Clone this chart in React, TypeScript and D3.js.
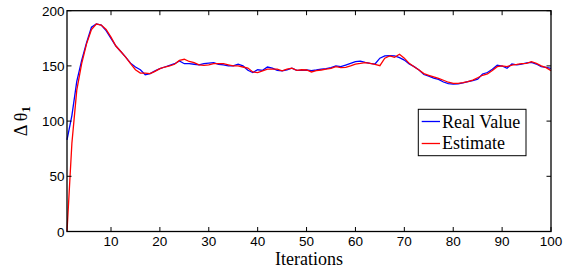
import * as d3 from "d3";

const iterations = d3.range(1, 101);

const realValue = [
  83, 105, 136, 155, 171, 185, 188, 187, 182, 175,
  168, 163, 158, 152.5, 149, 146.5, 142, 143, 145.5, 147.5,
  149, 150.5, 152, 154.5, 152, 152, 151.5, 151, 152, 152.5,
  153, 151.5, 151, 150, 150, 151.5, 150, 146, 144, 146.5,
  146, 149, 148, 146, 145.5, 146.5, 148, 146, 146, 146.3,
  145.7, 146.3, 147, 147.5, 148.5, 150, 149.3, 150.8, 152.3, 153.8,
  154.4, 153.2, 152.3, 151.7, 157, 159, 159.3, 159, 157.5, 155.3,
  151.7, 149.3, 146.3, 142.2, 140.8, 139, 137.8, 135.4, 134, 133.6,
  133.8, 134.6, 135.7, 136.6, 138, 142.7, 144, 147, 150.6, 149.9,
  147.9, 151.7, 151, 151.7, 152.8, 153.2, 151.7, 149.3, 148.7, 147.8,
];

const estimate = [
  0, 80, 128, 152, 170, 183, 188, 187, 183, 176,
  168, 163, 158, 152, 146.5, 143.5, 143.5, 143, 145, 147.5,
  149, 150, 151.5, 155, 156, 154, 153, 151, 150.5, 151,
  152, 152, 152, 151, 150, 150, 149, 148, 144.5, 144,
  145.5, 147, 147, 147, 145.5, 147, 148, 146, 146.5, 146.3,
  144.5, 145.7, 146.3, 147, 147.8, 149.3, 148.4, 148.7, 150, 151.7,
  152.3, 153, 152.3, 151.4, 150.2, 157, 159, 157.8, 160.5, 157,
  152.3, 149.3, 146.3, 143, 141.5, 140, 138.6, 137, 135.2, 134.2,
  134.2, 134.8, 135.7, 137.2, 139.3, 141.5, 142.7, 145.8, 149.3, 150,
  149.3, 150.8, 151.3, 152, 152.3, 153.8, 152.3, 150, 148.4, 145.7,
];

const xTicks = [10, 20, 30, 40, 50, 60, 70, 80, 90, 100];
const yTicks = [0, 50, 100, 150, 200];

const W = 563;
const H = 269;
const left = 67;
const right = 551;
const top = 10.7;
const bottom = 231.5;

export default function App() {
  const x = d3.scaleLinear().domain([1, 100]).range([left, right]);
  const y = d3.scaleLinear().domain([0, 200]).range([bottom, top]);

  const line = d3
    .line<number>()
    .x((_, i) => x(iterations[i]))
    .y((d) => y(d));

  const sans = "'Liberation Sans', Arial, sans-serif";
  const serif = "'Liberation Serif', 'Times New Roman', serif";
  const tick = 4.5;

  return (
    <svg
      width={W}
      height={H}
      style={{ position: "absolute", left: 0, top: 0, background: "#fff" }}
    >
      <path d={line(realValue) ?? ""} fill="none" stroke="#0000ff" strokeWidth={1.3} />
      <path d={line(estimate) ?? ""} fill="none" stroke="#ff0000" strokeWidth={1.3} />

      {xTicks.map((t) => (
        <g key={"x" + t}>
          <line x1={x(t)} x2={x(t)} y1={bottom} y2={bottom - tick} stroke="#000" />
          <line x1={x(t)} x2={x(t)} y1={top} y2={top + tick} stroke="#000" />
          <text
            x={x(t)}
            y={246}
            textAnchor="middle"
            fontFamily={sans}
            fontSize={13.5}
          >
            {t}
          </text>
        </g>
      ))}
      {yTicks.map((t) => (
        <g key={"y" + t}>
          <line x1={left} x2={left + tick} y1={y(t)} y2={y(t)} stroke="#000" />
          <line x1={right} x2={right - tick} y1={y(t)} y2={y(t)} stroke="#000" />
          <text
            x={64.5}
            y={y(t) + 5}
            textAnchor="end"
            fontFamily={sans}
            fontSize={13.5}
          >
            {t}
          </text>
        </g>
      ))}

      <rect
        x={left}
        y={top}
        width={right - left}
        height={bottom - top}
        fill="none"
        stroke="#000"
        strokeWidth={1.3}
      />

      <text x={(left + right) / 2} y={265} textAnchor="middle" fontFamily={serif} fontSize={18}>
        Iterations
      </text>

      <text
        transform={`translate(27,${(top + bottom) / 2}) rotate(-90)`}
        textAnchor="middle"
        fontFamily={serif}
        fontSize={18}
      >
        Δ θ
        <tspan fontSize={13} fontWeight="bold" dy={3}>
          1
        </tspan>
      </text>

      <g>
        <rect x={418.3} y={109.3} width={107.7} height={46.4} fill="#fff" stroke="#000" strokeWidth={1} />
        <line x1={421.7} x2={440} y1={121.5} y2={121.5} stroke="#0000ff" strokeWidth={1.3} />
        <text x={442} y={127.7} fontFamily={serif} fontSize={18}>
          Real Value
        </text>
        <line x1={421.7} x2={440} y1={143.5} y2={143.5} stroke="#ff0000" strokeWidth={1.3} />
        <text x={442} y={149.3} fontFamily={serif} fontSize={18}>
          Estimate
        </text>
      </g>
    </svg>
  );
}
